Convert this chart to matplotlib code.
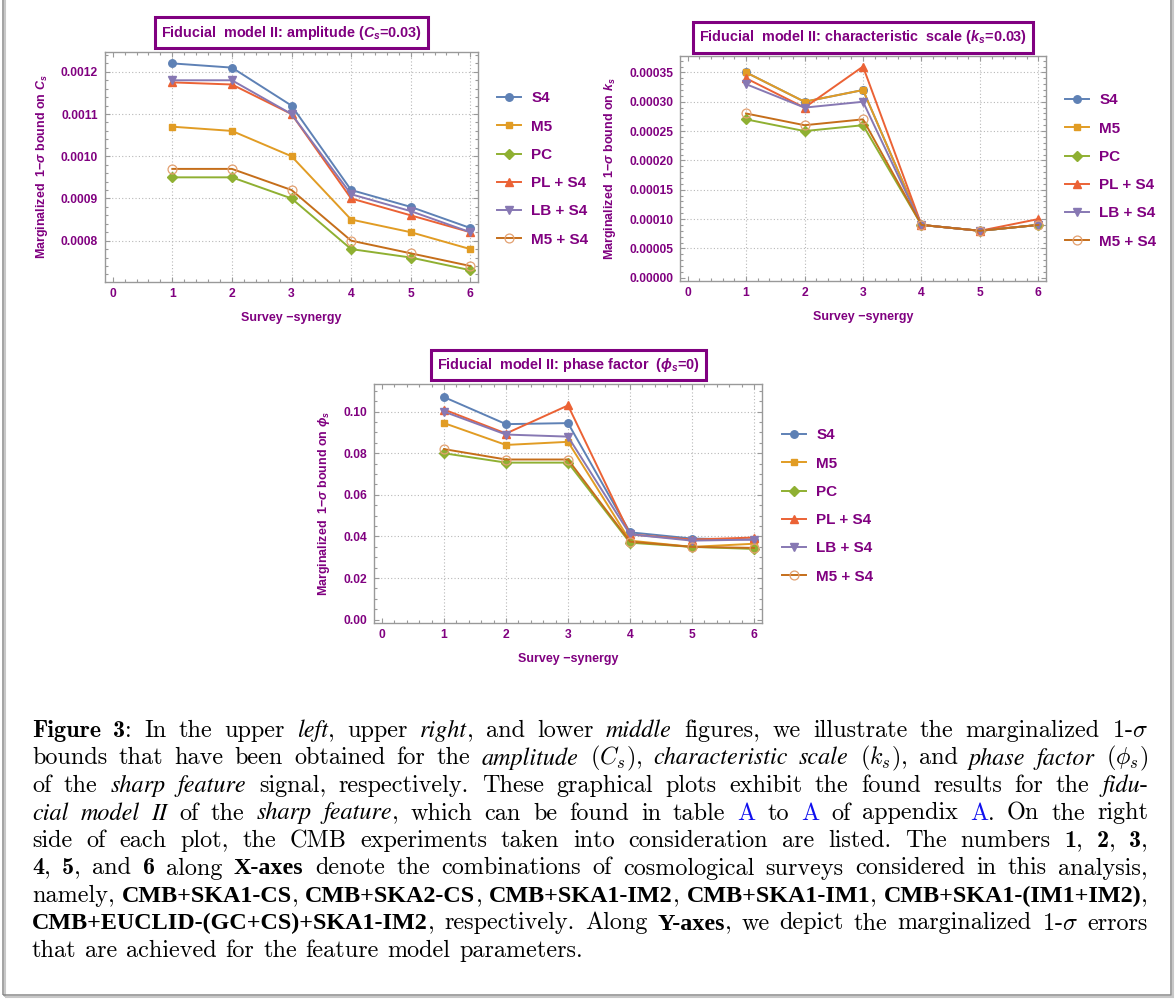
import re

import matplotlib
matplotlib.use('Agg')
import matplotlib.pyplot as plt
from matplotlib.patches import Rectangle
from matplotlib.ticker import AutoMinorLocator, FormatStrFormatter

plt.rcParams['font.family'] = ['Liberation Sans', 'DejaVu Sans']
plt.rcParams['mathtext.fontset'] = 'custom'
plt.rcParams['mathtext.rm'] = 'Liberation Sans:bold'
plt.rcParams['mathtext.bf'] = 'Liberation Sans:bold'
plt.rcParams['mathtext.it'] = 'Liberation Sans:bold:italic'

W, H = 1176, 999
PURPLE = '#800080'

# ---- data ----
survey = [1, 2, 3, 4, 5, 6]
experiments = ['S4', 'M5', 'PC', 'PL + S4', 'LB + S4', 'M5 + S4']

# amplitude C_s
cs_s4 = [0.00122, 0.00121, 0.00112, 0.00092, 0.00088, 0.00083]
cs_m5 = [0.00107, 0.00106, 0.00100, 0.00085, 0.00082, 0.00078]
cs_pc = [0.00095, 0.00095, 0.00090, 0.00078, 0.00076, 0.00073]
cs_pl_s4 = [0.001175, 0.00117, 0.00110, 0.00090, 0.00086, 0.00082]
cs_lb_s4 = [0.00118, 0.00118, 0.00110, 0.00091, 0.00087, 0.00082]
cs_m5_s4 = [0.00097, 0.00097, 0.00092, 0.00080, 0.00077, 0.00074]

# characteristic scale k_s
ks_s4 = [0.00035, 0.00030, 0.00032, 0.00009, 0.00008, 0.00009]
ks_m5 = [0.00035, 0.00030, 0.00032, 0.00009, 0.00008, 0.00009]
ks_pc = [0.00027, 0.00025, 0.00026, 0.00009, 0.00008, 0.00009]
ks_pl_s4 = [0.00034, 0.00029, 0.00036, 0.00009, 0.00008, 0.00010]
ks_lb_s4 = [0.00033, 0.00029, 0.00030, 0.00009, 0.00008, 0.00009]
ks_m5_s4 = [0.00028, 0.00026, 0.00027, 0.00009, 0.00008, 0.00009]

# phase factor phi_s
ph_s4 = [0.107, 0.094, 0.0945, 0.042, 0.039, 0.0385]
ph_m5 = [0.0945, 0.084, 0.0855, 0.038, 0.035, 0.0365]
ph_pc = [0.080, 0.0755, 0.0755, 0.037, 0.035, 0.034]
ph_pl_s4 = [0.101, 0.0895, 0.103, 0.041, 0.0385, 0.0395]
ph_lb_s4 = [0.100, 0.089, 0.088, 0.041, 0.038, 0.0385]
ph_m5_s4 = [0.082, 0.077, 0.077, 0.0375, 0.035, 0.0345]

cs_ticks = [0.0008, 0.0009, 0.0010, 0.0011, 0.0012]
ks_ticks = [0.0, 0.00005, 0.0001, 0.00015, 0.0002, 0.00025, 0.0003, 0.00035]
ph_ticks = [0.0, 0.02, 0.04, 0.06, 0.08, 0.10]

# **bold (CM)**, ##bold (narrow)##, *italic*, [link]
CAPTION = [
    r"**Figure 3**:  In the upper *left*, upper *right*, and lower *middle* figures, we illustrate the marginalized 1-$\sigma$",
    r"bounds that have been obtained for the *amplitude* ($C_s$), *characteristic scale* ($k_s$), and *phase factor* ($\phi_s$)",
    r"of the *sharp feature* signal, respectively.  These graphical plots exhibit the found results for the *fidu*-",
    r"*cial model II* of the *sharp feature*, which can be found in table [A] to [A] of appendix [A]. On the right",
    r"side of each plot, the CMB experiments taken into consideration are listed.  The numbers **1**, **2**, **3**,",
    r"**4**, **5**, and **6** along ##X-axes## denote the combinations of cosmological surveys considered in this analysis,",
    r"namely, ##CMB+SKA1-CS##, ##CMB+SKA2-CS##, ##CMB+SKA1-IM2##, ##CMB+SKA1-IM1##, ##CMB+SKA1-(IM1+IM2)##,",
    r"##CMB+EUCLID-(GC+CS)+SKA1-IM2##, respectively. Along ##Y-axes##, we depict the marginalized 1-$\sigma$ errors",
    r"that are achieved for the feature model parameters.",
]

# ---- styles ----
styles = [
    dict(color='#5E81B5', marker='o', ms=5.4),
    dict(color='#E19C24', marker='s', ms=3.9),
    dict(color='#8FB032', marker='D', ms=4.6),
    dict(color='#EB6235', marker='^', ms=5.8),
    dict(color='#8778B3', marker='v', ms=5.8),
    dict(color='#C56E1A', marker='o', ms=6.4, mfc='none', mec='#E3A070', mew=0.9),
]

fig = plt.figure(figsize=(W / 100, H / 100), dpi=100)


def px_axes(left, top, right, bottom):
    return fig.add_axes([left / W, 1 - bottom / H, (right - left) / W, (bottom - top) / H])


def draw_panel(box, series, ylim, yticks, yfmt, yminor, ylabel, title, title_xy, legend_xy):
    ax = px_axes(*box)
    for vals, lab, st in zip(series, experiments, styles):
        ax.plot(survey, vals, label=lab, lw=1.4, **st)

    ax.set_xlim(-0.13, 6.13)
    ax.set_ylim(*ylim)
    ax.set_xticks(range(7))
    ax.set_yticks(yticks)
    ax.yaxis.set_major_formatter(FormatStrFormatter(yfmt))
    ax.xaxis.set_minor_locator(AutoMinorLocator(5))
    ax.yaxis.set_minor_locator(AutoMinorLocator(yminor))

    # dotted grid at the major ticks
    for x in survey:
        ax.axvline(x, color='#b8b8b8', lw=0.8, ls=(0, (1, 2)), zorder=0)
    for y in yticks:
        if y > 0:
            ax.axhline(y, color='#b8b8b8', lw=0.8, ls=(0, (1, 2)), zorder=0)

    for sp in ax.spines.values():
        sp.set_color('#999999')
        sp.set_linewidth(1.0)
    ax.tick_params(which='both', direction='in', top=True, right=True,
                   color='#999999', width=0.8)
    ax.tick_params(which='major', length=3.6, labelsize=8.7, labelcolor=PURPLE)
    ax.tick_params(which='minor', length=2.2)
    ax.tick_params(axis='x', pad=4.3)
    ax.tick_params(axis='y', pad=5)
    for lab in ax.get_xticklabels() + ax.get_yticklabels():
        lab.set_fontweight('bold')

    ax.set_xlabel('Survey \u2212synergy', fontsize=9, fontweight='bold',
                  color=PURPLE, labelpad=9)
    ax.set_ylabel(ylabel, fontsize=9, fontweight='bold', color=PURPLE, labelpad=8)

    fig.text(title_xy[0] / W, 1 - title_xy[1] / H, title, ha='center', va='center',
             fontsize=10.4, fontweight='bold', color=PURPLE,
             bbox=dict(boxstyle='square,pad=0.42', fc='white', ec=PURPLE, lw=2.2))

    ax.legend(loc='center left', bbox_to_anchor=(legend_xy[0] / W, 1 - legend_xy[1] / H),
              bbox_transform=fig.transFigure, frameon=False,
              prop=dict(weight='bold', size=11), labelcolor=PURPLE,
              handlelength=1.55, handletextpad=0.7, labelspacing=0.93,
              borderpad=0, borderaxespad=0)
    return ax


draw_panel((105, 52, 478, 282),
           [cs_s4, cs_m5, cs_pc, cs_pl_s4, cs_lb_s4, cs_m5_s4],
           (0.000702, 0.001247), cs_ticks, '%.4f', 5,
           'Marginalized  1\u2212$\\sigma$ bound on $C_s$',
           'Fiducial  model II: amplitude ($C_s$=0.03)', (291.5, 32.5), (497, 169))

draw_panel((680, 56, 1046, 281),
           [ks_s4, ks_m5, ks_pc, ks_pl_s4, ks_lb_s4, ks_m5_s4],
           (-0.0000056, 0.000378), ks_ticks, '%.5f', 5,
           'Marginalized  1\u2212$\\sigma$ bound on $k_s$',
           'Fiducial  model II: characteristic  scale ($k_s$=0.03)', (863, 37.5), (1065, 171))

draw_panel((374, 384, 762, 623),
           [ph_s4, ph_m5, ph_pc, ph_pl_s4, ph_lb_s4, ph_m5_s4],
           (-0.0016, 0.1133), ph_ticks, '%.2f', 4,
           'Marginalized  1\u2212$\\sigma$ bound on $\\phi_s$',
           'Fiducial  model II: phase factor  ($\\phi_s$=0)', (568.5, 365), (782, 506))

# ---- caption box ----
fig.add_artist(Rectangle((5 / W, 1 - 997 / H), 1168 / W, 1010 / H, transform=fig.transFigure,
                         fill=False, ec='#c8c8c8', lw=1.5, clip_on=False))
fig.add_artist(Rectangle((3 / W, 1 - 995 / H), 1168 / W, 1010 / H, transform=fig.transFigure,
                         fill=False, ec='#8a8a8a', lw=1.1, clip_on=False))


def parse(line):
    words = [[]]
    pattern = r'\*\*(.+?)\*\*|##(.+?)##|\*(.+?)\*|\[(.+?)\]|([^*#\[]+)'
    for m in re.finditer(pattern, line):
        b, n, i, a, r = m.groups()
        if b:
            style, txt = 'b', b
        elif n:
            style, txt = 'n', n
        elif i:
            style, txt = 'i', i
        elif a:
            style, txt = 'a', a
        else:
            style, txt = 'r', r
        for k, p in enumerate(txt.split(' ')):
            if k > 0 and words[-1]:
                words.append([])
            if p:
                words[-1].append((p, style))
    return [w for w in words if w]


FS = 17.4
LEFT, RIGHT = 32, 1148
renderer = fig.canvas.get_renderer()
for n, line in enumerate(CAPTION):
    y = 1 - (737 + 27.5 * n) / H
    placed = []
    for word in parse(line):
        pieces = []
        for txt, st in word:
            kw = dict(family='cmr10', color='black')
            if st == 'b':
                kw['family'] = 'cmb10'
            elif st == 'n':
                kw = dict(family='Liberation Serif', weight='bold', color='black')
            elif st == 'i':
                kw = dict(family='STIXGeneral', style='italic', color='black')
            elif st == 'a':
                kw['color'] = '#1010ee'
            t = fig.text(0, y, txt, fontsize=FS, va='baseline', math_fontfamily='cm', **kw)
            pieces.append((t, t.get_window_extent(renderer).width))
        placed.append(pieces)
    totals = [sum(w for _, w in ps) for ps in placed]
    if n == len(CAPTION) - 1:
        gap = FS * 100 / 72 * 0.36
    else:
        gap = (RIGHT - LEFT - sum(totals)) / (len(placed) - 1)
    x = LEFT
    for ps in placed:
        for t, w in ps:
            t.set_x(x / W)
            x += w
        x += gap

fig.savefig('out.png', dpi=100)
